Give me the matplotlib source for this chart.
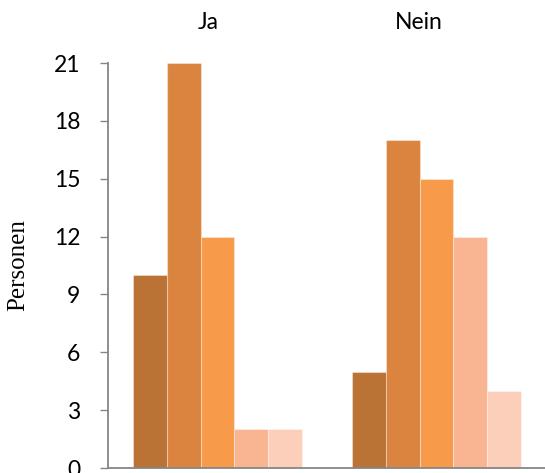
import matplotlib
matplotlib.use("Agg")
import matplotlib.pyplot as plt
import numpy as np

# data
categories = ["Ja", "Nein"]
series_values = [
    [10, 5],
    [21, 17],
    [12, 15],
    [2, 12],
    [2, 4],
]
colors = ["#BA7235", "#DB843F", "#F79A4A", "#F9B592", "#FBCFBA"]
y_ticks = [0, 3, 6, 9, 12, 15, 18, 21]

fig = plt.figure(figsize=(5.45, 4.73), dpi=100)
ax = fig.add_axes([108 / 545, 5 / 473, 438 / 545, 405 / 473])

x = np.arange(len(categories))
w = 0.1535
for i, (vals, col) in enumerate(zip(series_values, colors)):
    ax.bar(x + (i - 2) * w, vals, width=w, color=col,
           edgecolor=(1, 1, 1, 0.35), linewidth=0.8)

ax.set_xlim(-0.5, 1.5)
ax.set_ylim(0, 21)
ax.set_yticks(y_ticks)
ax.set_xticks([])

for s in ['top', 'right']:
    ax.spines[s].set_visible(False)
for s in ['left', 'bottom']:
    ax.spines[s].set_color('#868686')
    ax.spines[s].set_linewidth(1.3)

ax.tick_params(axis='y', direction='out', length=6, width=1, color='#868686',
               pad=14, labelsize=16.5)
for lab in ax.get_yticklabels():
    lab.set_fontfamily('Lato')

# category labels sit above the plot
for xi, name, off in zip(x, categories, [-0.041, -0.082]):
    ax.text(xi + off, 1.101, name, transform=ax.get_xaxis_transform(),
            ha='center', va='center', fontsize=16.5, family='Lato')

fig.text(18 / 545, 1 - 265 / 473, "Personen", rotation=90, ha='center',
         va='center', fontsize=18, family='Liberation Serif')

fig.savefig("out.png", dpi=100)
